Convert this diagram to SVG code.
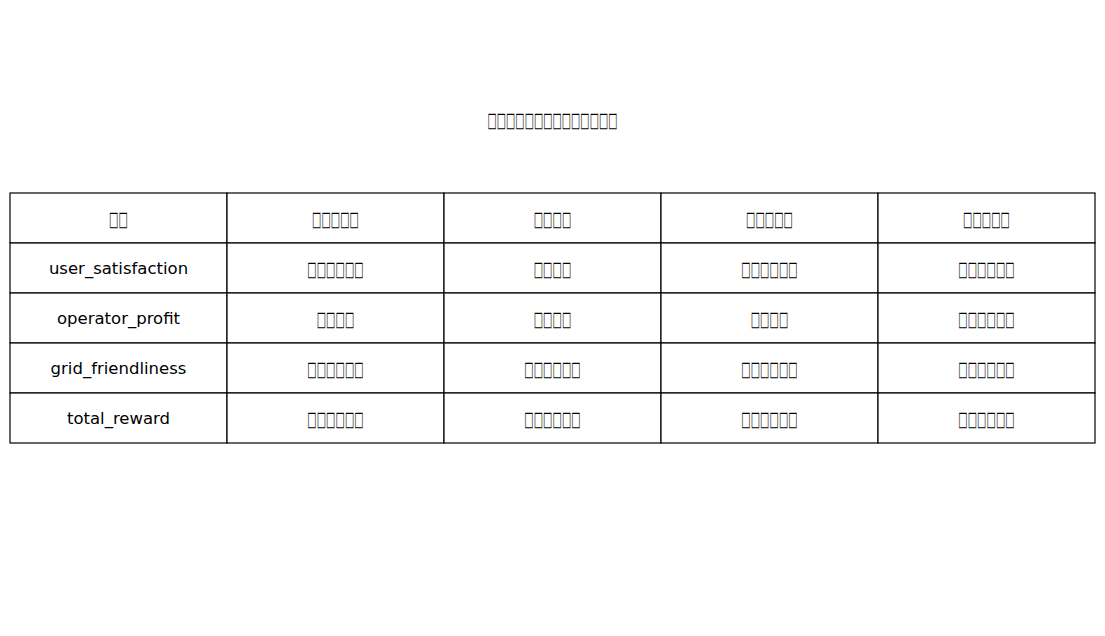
<svg xmlns="http://www.w3.org/2000/svg" width="1105" height="636" viewBox="0 0 1105 636">
<style>
text{font-family:"DejaVu Sans",sans-serif;font-size:16.5px;fill:#000;text-anchor:middle}
.b{font-size:20.5px}
.cell{fill:#fff;stroke:#000;stroke-width:1.2}
</style>
<rect width="1105" height="636" fill="#fff"/>
<text id="title" class="b" x="552.5" y="126.5" textLength="130" lengthAdjust="spacingAndGlyphs">□□□□□□□□□□□□□□</text>
<g id="table">
<g id="row0">
<rect class="cell" x="10" y="193" width="217" height="50"/><text class="b" x="118.5" y="225.5" textLength="19" lengthAdjust="spacingAndGlyphs">□□</text>
<rect class="cell" x="227" y="193" width="217" height="50"/><text class="b" x="335.5" y="225.5" textLength="47" lengthAdjust="spacingAndGlyphs">□□□□□</text>
<rect class="cell" x="444" y="193" width="217" height="50"/><text class="b" x="552.5" y="225.5" textLength="37.6" lengthAdjust="spacingAndGlyphs">□□□□</text>
<rect class="cell" x="661" y="193" width="217" height="50"/><text class="b" x="769.5" y="225.5" textLength="47" lengthAdjust="spacingAndGlyphs">□□□□□</text>
<rect class="cell" x="878" y="193" width="217" height="50"/><text class="b" x="986.5" y="225.5" textLength="47" lengthAdjust="spacingAndGlyphs">□□□□□</text>
</g>
<g id="row1">
<rect class="cell" x="10" y="243" width="217" height="50"/><text x="118.5" y="273.5">user_satisfaction</text>
<rect class="cell" x="227" y="243" width="217" height="50"/><text class="b" x="335.5" y="275.5" textLength="56.4" lengthAdjust="spacingAndGlyphs">□□□□□□</text>
<rect class="cell" x="444" y="243" width="217" height="50"/><text class="b" x="552.5" y="275.5" textLength="37.6" lengthAdjust="spacingAndGlyphs">□□□□</text>
<rect class="cell" x="661" y="243" width="217" height="50"/><text class="b" x="769.5" y="275.5" textLength="56.4" lengthAdjust="spacingAndGlyphs">□□□□□□</text>
<rect class="cell" x="878" y="243" width="217" height="50"/><text class="b" x="986.5" y="275.5" textLength="56.4" lengthAdjust="spacingAndGlyphs">□□□□□□</text>
</g>
<g id="row2">
<rect class="cell" x="10" y="293" width="217" height="50"/><text x="118.5" y="323.5">operator_profit</text>
<rect class="cell" x="227" y="293" width="217" height="50"/><text class="b" x="335.5" y="325.5" textLength="37.6" lengthAdjust="spacingAndGlyphs">□□□□</text>
<rect class="cell" x="444" y="293" width="217" height="50"/><text class="b" x="552.5" y="325.5" textLength="37.6" lengthAdjust="spacingAndGlyphs">□□□□</text>
<rect class="cell" x="661" y="293" width="217" height="50"/><text class="b" x="769.5" y="325.5" textLength="37.6" lengthAdjust="spacingAndGlyphs">□□□□</text>
<rect class="cell" x="878" y="293" width="217" height="50"/><text class="b" x="986.5" y="325.5" textLength="56.4" lengthAdjust="spacingAndGlyphs">□□□□□□</text>
</g>
<g id="row3">
<rect class="cell" x="10" y="343" width="217" height="50"/><text x="118.5" y="373.5">grid_friendliness</text>
<rect class="cell" x="227" y="343" width="217" height="50"/><text class="b" x="335.5" y="375.5" textLength="56.4" lengthAdjust="spacingAndGlyphs">□□□□□□</text>
<rect class="cell" x="444" y="343" width="217" height="50"/><text class="b" x="552.5" y="375.5" textLength="56.4" lengthAdjust="spacingAndGlyphs">□□□□□□</text>
<rect class="cell" x="661" y="343" width="217" height="50"/><text class="b" x="769.5" y="375.5" textLength="56.4" lengthAdjust="spacingAndGlyphs">□□□□□□</text>
<rect class="cell" x="878" y="343" width="217" height="50"/><text class="b" x="986.5" y="375.5" textLength="56.4" lengthAdjust="spacingAndGlyphs">□□□□□□</text>
</g>
<g id="row4">
<rect class="cell" x="10" y="393" width="217" height="50"/><text x="118.5" y="423.5">total_reward</text>
<rect class="cell" x="227" y="393" width="217" height="50"/><text class="b" x="335.5" y="425.5" textLength="56.4" lengthAdjust="spacingAndGlyphs">□□□□□□</text>
<rect class="cell" x="444" y="393" width="217" height="50"/><text class="b" x="552.5" y="425.5" textLength="56.4" lengthAdjust="spacingAndGlyphs">□□□□□□</text>
<rect class="cell" x="661" y="393" width="217" height="50"/><text class="b" x="769.5" y="425.5" textLength="56.4" lengthAdjust="spacingAndGlyphs">□□□□□□</text>
<rect class="cell" x="878" y="393" width="217" height="50"/><text class="b" x="986.5" y="425.5" textLength="56.4" lengthAdjust="spacingAndGlyphs">□□□□□□</text>
</g>
</g>
<g id="connectors"/>
</svg>
